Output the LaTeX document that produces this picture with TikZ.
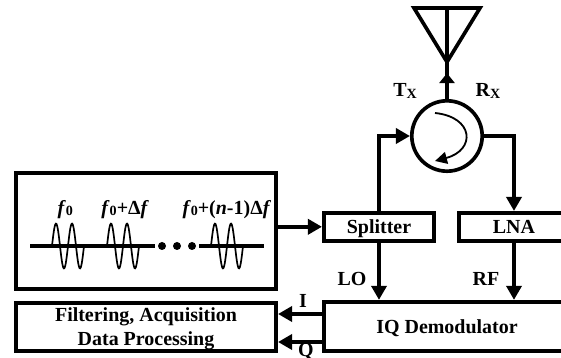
\documentclass[tikz,border=0pt]{standalone}
\usepackage{fontspec}
\setmainfont{Liberation Serif}
\usetikzlibrary{arrows.meta}
\tikzset{
    blockbox/.style={draw, line width=2.6pt, inner sep=0pt, align=center, text depth=0pt, font=\fontsize{14.2}{17}\selectfont\bfseries},
    sigtext/.style={inner sep=0pt, font=\fontsize{14.2}{16.4}\selectfont\bfseries},
    wire/.style={line width=2.6pt, -{Triangle[length=10pt,width=10.7pt]}},
    shortwire/.style={line width=2.6pt, -{Triangle[length=7pt,width=10.7pt]}},
    plainwire/.style={line width=2.6pt},
    burst/.style={line width=1.2pt}
}
\newcommand{\lowtxt}[1]{{\fontsize{10}{10}\selectfont\raisebox{-1pt}{#1}}}
\newcommand{\burstwave}[1]{%
    \draw[burst] plot[domain=0:0.8, samples=60, smooth] ({#1+\x}, {2.8+0.56*sin(900*\x)});
}
\begin{document}
\begin{tikzpicture}
    \useasboundingbox (0, 0) rectangle (14.025, 8.95);
    % blocks
    \node[blockbox, minimum width=6.51cm, minimum height=2.91cm] (source) at (3.65, 3.175) {};
    \node[blockbox, minimum width=6.51cm, minimum height=1.21cm] (proc) at (3.65, 0.775) {Filtering, Acquisition\\Data Processing};
    \node[blockbox, minimum width=2.76cm, minimum height=0.7cm] (split) at (9.475, 3.28) {Splitter};
    \node[blockbox, minimum width=2.76cm, minimum height=0.7cm] (lna) at (12.85, 3.28) {LNA};
    \node[blockbox, minimum width=6.16cm, minimum height=1.24cm] (demod) at (11.175, 0.7875) {IQ Demodulator};
    \node[circle, draw, line width=2.6pt, minimum size=1.76cm, inner sep=0pt] (circ) at (11.175, 5.55) {};
    % antenna
    \coordinate (antL) at (10.35, 8.75);
    \coordinate (antR) at (12.0, 8.75);
    \coordinate (antT) at (11.175, 8.75);
    \coordinate (antB) at (11.175, 7.4);
    \coordinate (antTip) at (11.175, 7.12);
    \draw[plainwire, line join=miter] (antL) -- (antR) -- (antB) -- cycle;
    \draw[plainwire] (antT) -- (antB);
    \draw[plainwire] (circ.north) -- (antB);
    \draw[shortwire] (circ.north) -- (antTip);
    % connectors
    \coordinate (ilev) at (0, 1.1);
    \coordinate (qlev) at (0, 0.4);
    \draw[wire] (source.east |- split.west) -- (split.west);
    \draw[wire] (split.north) |- (circ.west);
    \draw[wire] (circ.east) -| (lna.north);
    \draw[wire] (split.south) -- (split.south |- demod.north);
    \draw[wire] (lna.south) -- (lna.south |- demod.north);
    \draw[wire] (demod.west |- ilev) -- (proc.east |- ilev);
    \draw[wire] (demod.west |- qlev) -- (proc.east |- qlev);
    % inner arrow of the circulator
    \draw[line width=1.3pt, -{Triangle[length=8.5pt,width=8.5pt]}] (10.875, 6.125) .. controls (11.85, 6.025) and (11.9, 5.2) .. (10.875, 4.925);
    % waveform
    \draw[plainwire] (0.75, 2.8) -- (3.875, 2.8);
    \draw[plainwire] (4.975, 2.8) -- (6.6, 2.8);
    \burstwave{1.3}
    \burstwave{2.675}
    \burstwave{5.275}
    \foreach \dotx in {4.05, 4.425, 4.8} {
        \fill (\dotx, 2.8) circle (0.1);
    }
    % labels
    \node[sigtext] (fa) at (1.63, 3.72) {\textit{f}\lowtxt{0}};
    \node[sigtext] (fb) at (3.13, 3.72) {\textit{f}\lowtxt{0}+Δ\textit{f}};
    \node[sigtext] (fc) at (5.67, 3.72) {\textit{f}\lowtxt{0}+(\textit{n}-1)Δ\textit{f}};
    \node[sigtext] (tx) at (10.125, 6.675) {T\lowtxt{X}};
    \node[sigtext] (rx) at (12.2, 6.675) {R\lowtxt{X}};
    \node[sigtext] (lo) at (8.8, 1.975) {LO};
    \node[sigtext] (rf) at (12.15, 1.975) {RF};
    \node[sigtext] (ilab) at (7.575, 1.425) {I};
    \node[sigtext] (qlab) at (7.65, 0.16) {Q};
\end{tikzpicture}
\end{document}
